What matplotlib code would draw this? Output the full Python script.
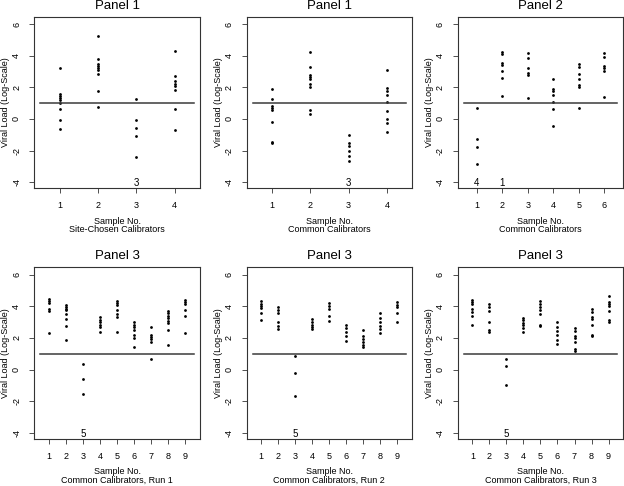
import matplotlib
matplotlib.use("Agg")
import matplotlib.pyplot as plt

plt.rcParams['font.family'] = ['Liberation Sans', 'DejaVu Sans']

# Panel titles and x-label subtitles
titles = ["Panel 1", "Panel 1", "Panel 2", "Panel 3", "Panel 3", "Panel 3"]
subtitles = ["Site-Chosen Calibrators", "Common Calibrators", "Common Calibrators",
             "Common Calibrators, Run 1", "Common Calibrators, Run 2",
             "Common Calibrators, Run 3"]

# viral load values (log scale) per sample
p1_site = [
    [3.24, 1.58, 1.47, 1.35, 1.2, 1.03, 0.65, -0.06, -0.65],
    [5.22, 3.79, 3.49, 3.37, 3.24, 3.12, 2.84, 1.77, 0.76],
    [1.26, -0.06, -0.59, -1.05, -2.38],
    [4.27, 2.69, 2.38, 2.23, 2.08, 1.81, 0.65, -0.72],
]
p1_common = [
    [1.87, 1.26, 0.8, 0.69, 0.57, -0.21, -1.45, -1.54],
    [4.21, 3.26, 2.8, 2.67, 2.55, 2.19, 2.04, 0.55, 0.29],
    [-1.01, -1.54, -1.71, -2.0, -2.32, -2.67],
    [3.09, 1.96, 1.77, 1.52, 1.05, 0.48, -0.02, -0.27, -0.84],
]
p2_common = [
    [0.69, -1.28, -1.79, -2.84],
    [4.21, 4.13, 3.56, 3.43, 3.03, 2.57, 1.43],
    [4.15, 3.83, 3.2, 2.93, 2.78, 1.35],
    [2.53, 1.89, 1.77, 1.52, 1.09, 0.61, -0.48],
    [3.45, 3.31, 2.82, 2.53, 2.17, 2.04, 0.67],
    [4.15, 3.89, 3.35, 3.24, 3.01, 1.39],
]
p3_run1 = [
    [4.46, 4.34, 4.19, 3.83, 3.68, 2.29],
    [4.08, 3.98, 3.85, 3.75, 3.49, 3.18, 2.78, 1.89],
    [0.32, -0.61, -1.56],
    [3.31, 3.16, 3.01, 2.84, 2.67, 2.34],
    [4.36, 4.23, 4.08, 3.75, 3.49, 3.31, 2.36],
    [2.99, 2.84, 2.67, 2.48, 2.17, 2.02, 1.45],
    [2.67, 2.19, 2.06, 1.94, 1.77, 0.69],
    [3.71, 3.54, 3.39, 3.24, 3.07, 2.91, 2.48, 1.54],
    [4.38, 4.25, 4.11, 3.79, 3.39, 2.29],
]
p3_run2 = [
    [4.32, 4.17, 4.04, 3.89, 3.54, 3.12],
    [3.96, 3.79, 3.56, 3.01, 2.78, 2.57],
    [0.88, -0.19, -1.68],
    [3.18, 3.03, 2.84, 2.69, 2.59],
    [4.21, 4.04, 3.85, 3.41, 3.09],
    [2.84, 2.63, 2.38, 2.11, 1.83],
    [2.48, 2.11, 1.92, 1.75, 1.58, 1.41],
    [3.54, 3.28, 3.03, 2.74, 2.53, 2.29],
    [4.25, 4.06, 3.92, 3.58, 2.99],
]
p3_run3 = [
    [4.4, 4.25, 4.13, 3.85, 3.64, 3.39, 2.84],
    [4.11, 3.96, 3.71, 3.01, 2.48, 2.36],
    [0.69, 0.25, -1.01],
    [3.26, 3.12, 2.95, 2.8, 2.63, 2.4],
    [4.32, 4.17, 3.98, 3.77, 3.49, 2.84, 2.76],
    [3.01, 2.69, 2.46, 2.15, 1.87, 1.62],
    [2.65, 2.44, 2.11, 2.02, 1.73, 1.31, 1.18],
    [3.85, 3.62, 3.31, 3.2, 2.82, 2.19, 2.11],
    [4.67, 4.29, 4.15, 4.0, 3.68, 3.14, 2.99],
]
panels = [p1_site, p1_common, p2_common, p3_run1, p3_run2, p3_run3]

# counts of values below the plotted range: (sample, count)
offscale = [
    [(3, 3)],
    [(3, 3)],
    [(1, 4), (2, 1)],
    [(3, 5)],
    [(3, 5)],
    [(3, 5)],
]

target = 1.0
yticks = [-4, -2, 0, 2, 4, 6]

W, H = 624, 486
fig = plt.figure(figsize=(W / 100, H / 100), dpi=100)

lefts = [34.3, 246.6, 457.7]
tops = [16.7, 267.3]
bw, bh = 165.5, 171.5

def fx(px):
    return px / W

def fy(py):
    return 1 - py / H

for i, data in enumerate(panels):
    row, col = divmod(i, 3)
    L, T = lefts[col], tops[row]
    ax = fig.add_axes([fx(L), fy(T + bh), bw / W, bh / H])
    n = len(data)
    for k, vals in enumerate(data):
        ax.scatter([k + 1] * len(vals), vals, s=4, color='black', linewidths=0)
    ax.plot([0.5, n + 0.5], [target, target], color='#3a3a3a', lw=1.1)
    for s, c in offscale[i]:
        ax.text(s, -4.07, str(c), ha='center', va='center', fontsize=7)

    ax.set_xlim(0.5 - 0.04 * n, n + 0.5 + 0.04 * n)
    ax.set_ylim(-4.38, 6.46)
    ax.set_xticks(range(1, n + 1))
    ax.set_yticks(yticks)
    ax.set_yticklabels([str(t) for t in yticks], rotation=90, va='center')
    ax.tick_params(labelsize=6.5, length=3.5, width=0.6, pad=6, color='#333333')
    for sp in ax.spines.values():
        sp.set_linewidth(0.8)
        sp.set_color('#333333')

    # title and axis labels placed like the R layout
    cx = L + bw / 2
    fig.text(fx(cx), fy(T - 11), titles[i], ha='center', va='center', fontsize=9.5)
    fig.text(fx(cx), fy(T + bh + 33), "Sample No.", ha='center', va='center', fontsize=6.5)
    fig.text(fx(cx), fy(T + bh + 41.5), subtitles[i], ha='center', va='center', fontsize=6.5)
    fig.text(fx(L - 28.5), fy(T + bh / 2), "Viral Load (Log-Scale)", ha='center', va='center',
             rotation=90, fontsize=6.5)

fig.savefig("out.png", dpi=100)
